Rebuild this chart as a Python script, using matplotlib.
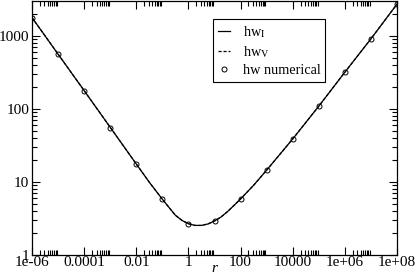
import numpy as np
import matplotlib
matplotlib.use("Agg")
import matplotlib.pyplot as plt
from matplotlib.ticker import FixedLocator, NullFormatter

# values
r_points = [1e-6, 1e-5, 1e-4, 1e-3, 1e-2, 1e-1, 1, 10, 100,
            1e3, 1e4, 1e5, 1e6, 1e7, 1e8]
hw_numerical = [1780, 560, 178, 55.5, 17.6, 5.8, 2.68, 2.92, 5.85,
                14.5, 38.8, 109, 318, 910, 2720]

r_line = [1e-6, 1e-5, 1e-4, 1e-3, 1e-2, 10**-1.5, 1e-1,
          10**-0.75, 10**-0.5, 10**-0.25, 1,
          10**0.25, 10**0.5, 10**0.75, 10,
          10**1.25, 10**1.5, 10**1.75, 100, 10**2.5,
          1e3, 1e4, 1e5, 1e6, 1e7, 1e8]
hw_I = [1780, 562, 178, 56, 17.6, 9.9, 5.8,
        4.5, 3.5, 2.98, 2.68,
        2.54, 2.54, 2.66, 2.92,
        3.31, 3.93, 4.78, 5.85, 9.0,
        14.5, 38.8, 109, 318, 910, 2720]
hw_V = [1780, 562, 178, 56, 17.6, 9.9, 5.8,
        4.5, 3.5, 2.98, 2.68,
        2.54, 2.54, 2.66, 2.92,
        3.31, 3.93, 4.78, 5.85, 9.0,
        14.5, 38.8, 109, 318, 910, 2720]

x_ticks = [1e-6, 1e-4, 1e-2, 1, 1e2, 1e4, 1e6, 1e8]
x_ticklabels = ["1e-06", "0.0001", "0.01", "1", "100", "10000", "1e+06", "1e+08"]
y_ticks = [1, 10, 100, 1000]
y_ticklabels = ["1", "10", "100", "1000"]

plt.rcParams['font.family'] = ['Liberation Serif', 'DejaVu Serif']
plt.rcParams['mathtext.fontset'] = 'stix'

fig = plt.figure(figsize=(4.15, 2.8), dpi=100)
ax = fig.add_axes([32/415, 25/280, 365/415, 254/280])

ax.plot(r_line, hw_I, color="black", lw=0.9, label=r"hw$_\mathrm{I}$")
ax.plot(r_line, hw_V, color="black", lw=0.9, ls=(0, (2.5, 1.5)), label=r"hw$_\mathrm{V}$")
ax.plot(r_points, hw_numerical, ls="none", marker="o", ms=3.6, mfc="none",
        mec="black", mew=0.7, label="hw numerical")

ax.set_xscale("log")
ax.set_yscale("log")
ax.set_xlim(1e-6, 1e8)
ax.set_ylim(1, 3000)

# grace style ticks: minor ones only in the decade after each major tick
x_minor = [m * t for t in x_ticks[:-1] for m in range(2, 10)]
y_minor = [m * 10**k for k in range(0, 4) for m in range(2, 10) if m * 10**k < 3000]
ax.xaxis.set_major_locator(FixedLocator(x_ticks))
ax.xaxis.set_minor_locator(FixedLocator(x_minor))
ax.set_xticklabels(x_ticklabels)
ax.xaxis.set_minor_formatter(NullFormatter())
ax.yaxis.set_major_locator(FixedLocator(y_ticks))
ax.yaxis.set_minor_locator(FixedLocator(y_minor))
ax.set_yticklabels(y_ticklabels)
ax.yaxis.set_minor_formatter(NullFormatter())

ax.tick_params(which="both", direction="in", top=True, right=True,
               labelsize=11, width=0.8)
ax.tick_params(axis="x", pad=1)
ax.tick_params(axis="y", pad=2)
ax.tick_params(which="major", length=6)
ax.tick_params(which="minor", length=3.5)
for s in ax.spines.values():
    s.set_linewidth(0.9)

ax.set_xlabel("r", fontstyle="italic", fontsize=11, labelpad=-5)

ax.legend(loc="upper left", bbox_to_anchor=(0.497, 0.93), fontsize=10.3,
          frameon=True, fancybox=False, edgecolor="black", framealpha=1,
          handlelength=0.8, handletextpad=0.9, borderpad=0.35,
          labelspacing=0.3, borderaxespad=0)
ax.get_legend().get_frame().set_linewidth(0.8)

fig.savefig("out.png", dpi=100)
